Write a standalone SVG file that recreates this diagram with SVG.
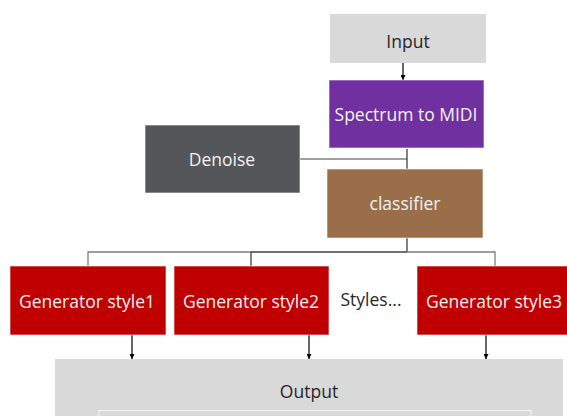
<svg xmlns="http://www.w3.org/2000/svg" width="567" height="416" viewBox="0 0 567 416">
  <style>
    .box { stroke: #ffffff; stroke-opacity: 0.6; stroke-width: 1; }
    .lbl { font-family: "Open Sans", "Noto Sans", sans-serif; font-size: 17.5px; text-anchor: middle; dominant-baseline: central; }
    .light { fill: #f2f2f2; }
    .dark { fill: #262626; }
    .wire { fill: none; stroke: #404040; stroke-width: 1.3; }
    .wire-gray { fill: none; stroke: #7f7f7f; stroke-width: 1.3; }
    .arrow { fill: none; stroke: #000000; stroke-width: 1.2; marker-end: url(#head); }
  </style>
  <defs>
    <marker id="head" viewBox="0 0 8 8" refX="8" refY="4" markerWidth="5" markerHeight="5" markerUnits="userSpaceOnUse" orient="auto">
      <path d="M0,0 L8,4 L0,8 Z" fill="#000000"/>
    </marker>
  </defs>

  <rect width="567" height="416" fill="#ffffff"/>

  <g id="output">
    <rect x="55" y="359" width="508" height="60" fill="#d9d9d9"/>
    <rect x="99" y="410.5" width="432" height="10" fill="none" stroke="#f2f2f2" stroke-width="1.2"/>
    <text class="lbl dark" x="309" y="391">Output</text>
  </g>

  <g id="connectors">
    <!-- Input to Spectrum to MIDI -->
    <line class="arrow" x1="403" y1="63" x2="403" y2="80"/>
    <!-- Denoise joins the trunk between Spectrum to MIDI and classifier -->
    <line class="wire-gray" x1="300" y1="159" x2="407" y2="159"/>
    <line class="wire" x1="407" y1="149" x2="407" y2="169"/>
    <!-- classifier fans out to the generators -->
    <line class="wire" x1="407" y1="238" x2="407" y2="252"/>
    <polyline class="wire-gray" points="88,266 88,252 251,252"/>
    <polyline class="wire" points="251,266 251,252 407,252"/>
    <polyline class="wire-gray" points="407,252 495,252 495,266"/>
    <!-- generators to output -->
    <line class="arrow" x1="132" y1="328" x2="132" y2="359"/>
    <line class="arrow" x1="309" y1="328" x2="309" y2="359"/>
    <line class="arrow" x1="486" y1="327" x2="486" y2="359"/>
  </g>

  <g id="input">
    <rect x="330" y="14" width="156" height="49" fill="#d9d9d9"/>
    <text class="lbl dark" x="408" y="41">Input</text>
  </g>

  <g id="spectrum-to-midi">
    <rect class="box" x="329" y="80" width="155" height="68" fill="#7030a0"/>
    <text class="lbl light" x="406" y="114">Spectrum to MIDI</text>
  </g>

  <g id="denoise">
    <rect class="box" x="145" y="125" width="155" height="68" fill="#545659"/>
    <text class="lbl light" x="222" y="159">Denoise</text>
  </g>

  <g id="classifier">
    <rect class="box" x="327" y="169" width="156" height="69" fill="#9a6e48"/>
    <text class="lbl light" x="405" y="203">classifier</text>
  </g>

  <g id="generator-style1">
    <rect class="box" x="10" y="266" width="156" height="69" fill="#c00000"/>
    <text class="lbl light" x="87" y="301">Generator style1</text>
  </g>

  <g id="generator-style2">
    <rect class="box" x="174" y="266" width="155" height="69" fill="#c00000"/>
    <text class="lbl light" x="251" y="301">Generator style2</text>
  </g>

  <g id="styles-more">
    <text class="lbl dark" x="371" y="299">Styles...</text>
  </g>

  <g id="generator-style3">
    <rect class="box" x="417" y="266" width="155" height="69" fill="#c00000"/>
    <text class="lbl light" x="494" y="301">Generator style3</text>
  </g>
</svg>
